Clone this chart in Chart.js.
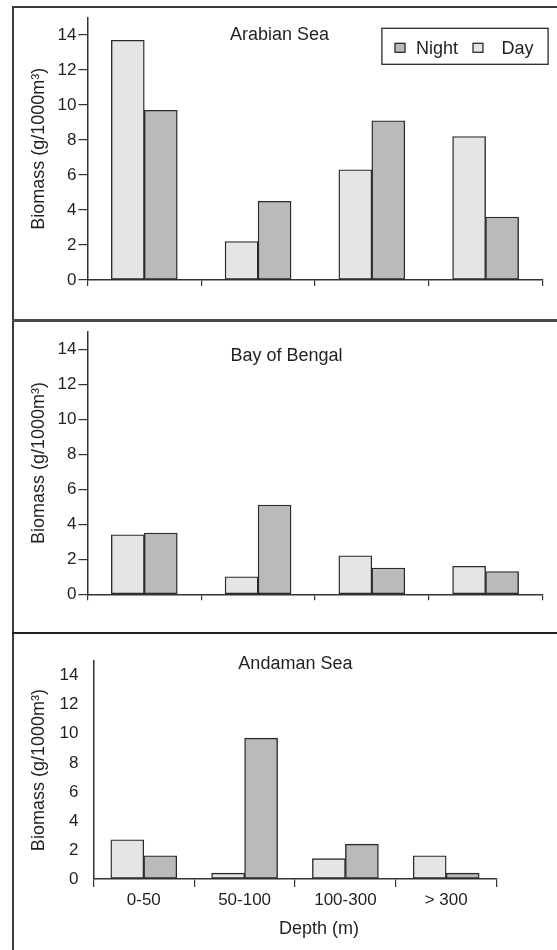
<!DOCTYPE html>
<html>
<head>
<meta charset="utf-8">
<script src="https://cdn.jsdelivr.net/npm/chart.js@4.4.0/dist/chart.umd.min.js"></script>
<style>
    body { margin: 0; background: #fff; width: 557px; height: 950px; overflow: hidden; position: relative; }
    .linha { position: absolute; background: #3a3a3a; }
    canvas { position: absolute; left: 14px; }
</style>
</head>
<body>
<div class="linha" style="left:12px;top:6px;width:2px;height:944px"></div>
<div class="linha" style="left:12px;top:6px;width:545px;height:2px"></div>
<div class="linha" style="left:12px;top:319px;width:545px;height:3px;background:#4a4a4a"></div>
<div class="linha" style="left:12px;top:632px;width:545px;height:2px;background:#222"></div>

<canvas id="graficoArabico" width="543" height="311" style="top:8px"></canvas>
<canvas id="graficoBengala" width="543" height="310" style="top:322px"></canvas>
<canvas id="graficoAndaman" width="543" height="316" style="top:634px"></canvas>

<script>
// dados (g/1000m3)
const profundidades = ['0-50', '50-100', '100-300', '> 300'];
const valoresY = [0, 2, 4, 6, 8, 10, 12, 14];

const diaArabico = [13.7, 2.2, 6.3, 8.2];
const noiteArabico = [9.7, 4.5, 9.1, 3.6];

const diaBengala = [3.4, 1.0, 2.2, 1.6];
const noiteBengala = [3.5, 5.1, 1.5, 1.3];

const diaAndaman = [2.7, 0.4, 1.4, 1.6];
const noiteAndaman = [1.6, 9.7, 2.4, 0.4];

const FONTE = '"Liberation Sans", Arial, sans-serif';
const PRETO = '#231f20';
Chart.defaults.font.family = FONTE;
Chart.defaults.color = PRETO;

// textos soltos e legenda desenhados dentro do painel
const textosPainel = {
    id: 'textosPainel',
    afterDraw: function(chart, args, opts) {
        const ctx = chart.ctx;
        ctx.save();
        ctx.fillStyle = PRETO;
        ctx.font = '18px ' + FONTE;
        ctx.textBaseline = 'alphabetic';
        ctx.textAlign = 'center';
        (opts.textos || []).forEach(function(t) {
            ctx.fillText(t.texto, t.x, t.y);
        });

        if (opts.legenda) {
            const leg = opts.legenda;
            ctx.strokeStyle = '#2b2b2b';
            ctx.lineWidth = 1.3;
            ctx.strokeRect(leg.x, leg.y, leg.w, leg.h);
            ctx.textAlign = 'left';
            leg.itens.forEach(function(item) {
                const ds = chart.data.datasets[item.ds];
                ctx.fillStyle = ds.backgroundColor;
                ctx.fillRect(item.x, leg.y + 15, 10, 9);
                ctx.strokeRect(item.x, leg.y + 15, 10, 9);
                ctx.fillStyle = PRETO;
                ctx.fillText(ds.label, item.xTexto, leg.y + 26);
            });
        }
        ctx.restore();
    }
};

function criarPainel(id, dia, noite, cfg) {
    const ctx = document.getElementById(id).getContext('2d');

    const data = {
        labels: profundidades,
        datasets: [{
            label: 'Day',
            data: dia,
            backgroundColor: '#e4e5e6',
            borderColor: '#2b2b2b',
            borderWidth: 1.4,
            borderSkipped: false,
            barThickness: 33
        }, {
            label: 'Night',
            data: noite,
            backgroundColor: '#b9babc',
            borderColor: '#2b2b2b',
            borderWidth: 1.4,
            borderSkipped: false,
            barThickness: 33
        }]
    };

    return new Chart(ctx, {
        type: 'bar',
        data: data,
        options: {
            responsive: false,
            animation: false,
            layout: { padding: { left: 0, top: cfg.topo, right: cfg.direita, bottom: 0 } },
            plugins: {
                legend: { display: false },
                tooltip: { enabled: false },
                textosPainel: { textos: cfg.textos, legenda: cfg.legenda }
            },
            scales: {
                x: {
                    offset: true,
                    grid: { display: true, offset: true, drawOnChartArea: false, tickLength: cfg.tickX, color: '#333', lineWidth: 1.2 },
                    border: { display: true, color: '#333', width: 1.5 },
                    ticks: { display: cfg.rotulosX, padding: 3, font: { size: 17 }, color: PRETO },
                    afterFit: function(scale) {
                        scale.height = cfg.alturaX;
                        scale.paddingLeft = 0;
                        scale.paddingRight = 0;
                    }
                },
                y: {
                    min: 0,
                    max: 15,
                    grid: { display: true, drawOnChartArea: false, drawTicks: cfg.marcasY, tickLength: 9, color: '#333', lineWidth: 1.2 },
                    border: { display: true, color: '#333', width: 1.5 },
                    ticks: { padding: cfg.marcasY ? 2 : 15, font: { size: 17 }, color: PRETO },
                    afterBuildTicks: function(scale) {
                        scale.ticks = valoresY.map(v => ({ value: v }));
                    },
                    title: {
                        display: true,
                        text: 'Biomass (g/1000m³)',
                        font: { size: 18 },
                        color: PRETO,
                        padding: { top: 14, bottom: 0 }
                    },
                    afterFit: function(scale) {
                        scale.width = cfg.larguraY;
                        scale.paddingTop = 0;
                        scale.paddingBottom = 0;
                    }
                }
            }
        },
        plugins: [textosPainel]
    });
}

criarPainel('graficoArabico', diaArabico, noiteArabico, {
    topo: 9.5, direita: 14.5, larguraY: 73.4, alturaX: 39, tickX: 6,
    rotulosX: false, marcasY: true,
    textos: [{ texto: 'Arabian Sea', x: 265.6, y: 32 }],
    legenda: {
        x: 367.9, y: 20.3, w: 166.2, h: 36,
        itens: [{ ds: 1, x: 381, xTexto: 402 }, { ds: 0, x: 459, xTexto: 487.6 }]
    }
});

criarPainel('graficoBengala', diaBengala, noiteBengala, {
    topo: 9.8, direita: 14.5, larguraY: 73.4, alturaX: 37.7, tickX: 6,
    rotulosX: false, marcasY: true,
    textos: [{ texto: 'Bay of Bengal', x: 272.5, y: 39 }]
});

criarPainel('graficoAndaman', diaAndaman, noiteAndaman, {
    topo: 27.2, direita: 60.4, larguraY: 79.4, alturaX: 71, tickX: 8,
    rotulosX: true, marcasY: false,
    textos: [{ texto: 'Andaman Sea', x: 281.4, y: 35.3 }, { texto: 'Depth (m)', x: 305, y: 300 }]
});
</script>
</body>
</html>
